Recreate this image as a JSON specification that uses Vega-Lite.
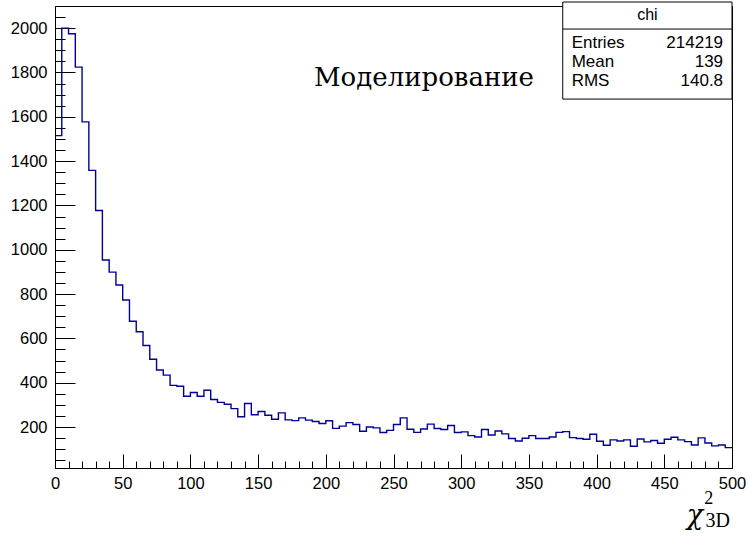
{
  "$schema": "https://vega.github.io/schema/vega-lite/v6.json",
  "width": 677,
  "height": 462,
  "autosize": "none",
  "padding": {"left": 55, "top": 6, "right": 16, "bottom": 70},
  "background": "white",
  "view": {"stroke": "black", "strokeWidth": 1},
  "config": {"font": "Liberation Sans"},
  "datasets": {
    "hist": [
      {"x": 0, "count": 1515}, {"x": 5, "count": 2000}, {"x": 10, "count": 1975}, {"x": 15, "count": 1824},
      {"x": 20, "count": 1577}, {"x": 25, "count": 1358}, {"x": 30, "count": 1177}, {"x": 35, "count": 954},
      {"x": 40, "count": 899}, {"x": 45, "count": 841}, {"x": 50, "count": 773}, {"x": 55, "count": 677},
      {"x": 60, "count": 630}, {"x": 65, "count": 568}, {"x": 70, "count": 506}, {"x": 75, "count": 457},
      {"x": 80, "count": 434}, {"x": 85, "count": 388}, {"x": 90, "count": 384}, {"x": 95, "count": 339},
      {"x": 100, "count": 356}, {"x": 105, "count": 339}, {"x": 110, "count": 366}, {"x": 115, "count": 324},
      {"x": 120, "count": 311}, {"x": 125, "count": 303}, {"x": 130, "count": 283}, {"x": 135, "count": 246},
      {"x": 140, "count": 306}, {"x": 145, "count": 255}, {"x": 150, "count": 270}, {"x": 155, "count": 253},
      {"x": 160, "count": 235}, {"x": 165, "count": 264}, {"x": 170, "count": 232}, {"x": 175, "count": 229},
      {"x": 180, "count": 241}, {"x": 185, "count": 231}, {"x": 190, "count": 225}, {"x": 195, "count": 216},
      {"x": 200, "count": 228}, {"x": 205, "count": 194}, {"x": 210, "count": 204}, {"x": 215, "count": 220},
      {"x": 220, "count": 211}, {"x": 225, "count": 181}, {"x": 230, "count": 200}, {"x": 235, "count": 196},
      {"x": 240, "count": 175}, {"x": 245, "count": 185}, {"x": 250, "count": 211}, {"x": 255, "count": 241},
      {"x": 260, "count": 190}, {"x": 265, "count": 176}, {"x": 270, "count": 191}, {"x": 275, "count": 213},
      {"x": 280, "count": 193}, {"x": 285, "count": 189}, {"x": 290, "count": 207}, {"x": 295, "count": 175},
      {"x": 300, "count": 178}, {"x": 305, "count": 161}, {"x": 310, "count": 155}, {"x": 315, "count": 189},
      {"x": 320, "count": 164}, {"x": 325, "count": 182}, {"x": 330, "count": 169}, {"x": 335, "count": 148},
      {"x": 340, "count": 137}, {"x": 345, "count": 149}, {"x": 350, "count": 161}, {"x": 355, "count": 148},
      {"x": 360, "count": 148}, {"x": 365, "count": 155}, {"x": 370, "count": 176}, {"x": 375, "count": 179},
      {"x": 380, "count": 152}, {"x": 385, "count": 148}, {"x": 390, "count": 145}, {"x": 395, "count": 167},
      {"x": 400, "count": 136}, {"x": 405, "count": 118}, {"x": 410, "count": 142}, {"x": 415, "count": 137},
      {"x": 420, "count": 142}, {"x": 425, "count": 113}, {"x": 430, "count": 146}, {"x": 435, "count": 133},
      {"x": 440, "count": 139}, {"x": 445, "count": 127}, {"x": 450, "count": 145}, {"x": 455, "count": 154},
      {"x": 460, "count": 142}, {"x": 465, "count": 134}, {"x": 470, "count": 119}, {"x": 475, "count": 151},
      {"x": 480, "count": 128}, {"x": 485, "count": 115}, {"x": 490, "count": 119}, {"x": 495, "count": 107},
      {"x": 500, "count": 107}
    ]
  },
  "resolve": {
    "scale": {"x": "shared", "y": "shared"},
    "axis": {"x": "independent", "y": "independent"}
  },
  "layer": [
    {
      "data": {"name": "hist"},
      "mark": {"type": "line", "interpolate": "step-after", "color": "#000099", "strokeWidth": 1.4},
      "encoding": {
        "x": {
          "field": "x", "type": "quantitative",
          "scale": {"domain": [0, 500], "nice": false, "zero": false},
          "axis": {
            "orient": "bottom", "title": null, "grid": false, "format": "d",
            "values": [0, 50, 100, 150, 200, 250, 300, 350, 400, 450, 500],
            "tickSize": -14, "labelPadding": 21, "tickColor": "black", "domainColor": "black",
            "labelFont": "Liberation Sans", "labelFontSize": 16.5, "labelColor": "black",
            "labelFlush": false, "labelOverlap": false
          }
        },
        "y": {
          "field": "count", "type": "quantitative",
          "scale": {"domain": [15, 2100], "nice": false, "zero": false},
          "axis": {
            "orient": "left", "title": null, "grid": false, "format": "d",
            "values": [200, 400, 600, 800, 1000, 1200, 1400, 1600, 1800, 2000],
            "tickSize": -20, "labelPadding": 28, "tickColor": "black", "domainColor": "black",
            "labelFont": "Liberation Sans", "labelFontSize": 16.5, "labelColor": "black",
            "labelFlush": false, "labelOverlap": false
          }
        }
      }
    },
    {
      "data": {"name": "hist"},
      "mark": {"type": "point", "opacity": 0},
      "encoding": {
        "x": {
          "field": "x", "type": "quantitative",
          "scale": {"domain": [0, 500], "nice": false, "zero": false},
          "axis": {
            "orient": "bottom", "title": null, "grid": false, "labels": false, "domain": false,
            "values": [10, 20, 30, 40, 60, 70, 80, 90, 110, 120, 130, 140, 160, 170, 180, 190, 210, 220, 230, 240, 260, 270, 280, 290, 310, 320, 330, 340, 360, 370, 380, 390, 410, 420, 430, 440, 460, 470, 480, 490],
            "tickSize": -7, "tickColor": "black"
          }
        },
        "y": {
          "field": "count", "type": "quantitative",
          "scale": {"domain": [15, 2100], "nice": false, "zero": false},
          "axis": {
            "orient": "left", "title": null, "grid": false, "labels": false, "domain": false,
            "values": [50, 100, 150, 250, 300, 350, 450, 500, 550, 650, 700, 750, 850, 900, 950, 1050, 1100, 1150, 1250, 1300, 1350, 1450, 1500, 1550, 1650, 1700, 1750, 1850, 1900, 1950, 2050],
            "tickSize": -10, "tickColor": "black"
          }
        }
      }
    },
    {
      "data": {"values": [{}]},
      "mark": {"type": "rect", "fill": "white", "stroke": "black", "strokeWidth": 1},
      "encoding": {
        "x": {"datum": 375, "type": "quantitative", "axis": null, "scale": {"domain": [0, 500], "nice": false, "zero": false}},
        "x2": {"datum": 500},
        "y": {"datum": 1680, "type": "quantitative", "axis": null, "scale": {"domain": [15, 2100], "nice": false, "zero": false}},
        "y2": {"datum": 2118}
      }
    },
    {
      "data": {"values": [{}]},
      "mark": {"type": "rule", "stroke": "black", "strokeWidth": 1},
      "encoding": {
        "x": {"datum": 375, "type": "quantitative", "axis": null, "scale": {"domain": [0, 500], "nice": false, "zero": false}},
        "x2": {"datum": 500},
        "y": {"datum": 1996, "type": "quantitative", "axis": null, "scale": {"domain": [15, 2100], "nice": false, "zero": false}}
      }
    },
    {
      "data": {"values": [{"t": "chi"}]},
      "mark": {"type": "text", "font": "Liberation Sans", "fontSize": 16, "align": "center", "baseline": "middle", "color": "black"},
      "encoding": {
        "x": {"datum": 437.5, "type": "quantitative", "axis": null, "scale": {"domain": [0, 500], "nice": false, "zero": false}},
        "y": {"datum": 2058, "type": "quantitative", "axis": null, "scale": {"domain": [15, 2100], "nice": false, "zero": false}},
        "text": {"field": "t"}
      }
    },
    {
      "data": {"values": [{"t": "Entries", "v": "214219", "row": 1934}, {"t": "Mean", "v": "139", "row": 1849}, {"t": "RMS", "v": "140.8", "row": 1762}]},
      "layer": [
        {
          "mark": {"type": "text", "font": "Liberation Sans", "fontSize": 17, "align": "left", "baseline": "middle", "color": "black"},
          "encoding": {
            "x": {"datum": 381.6, "type": "quantitative", "axis": null, "scale": {"domain": [0, 500], "nice": false, "zero": false}},
            "y": {"field": "row", "type": "quantitative", "axis": null, "scale": {"domain": [15, 2100], "nice": false, "zero": false}},
            "text": {"field": "t"}
          }
        },
        {
          "mark": {"type": "text", "font": "Liberation Sans", "fontSize": 17, "align": "right", "baseline": "middle", "color": "black"},
          "encoding": {
            "x": {"datum": 493.4, "type": "quantitative", "axis": null, "scale": {"domain": [0, 500], "nice": false, "zero": false}},
            "y": {"field": "row", "type": "quantitative", "axis": null, "scale": {"domain": [15, 2100], "nice": false, "zero": false}},
            "text": {"field": "v"}
          }
        }
      ]
    },
    {
      "data": {"values": [{"t": "Моделирование"}]},
      "mark": {"type": "text", "font": "DejaVu Serif", "fontSize": 26, "align": "center", "baseline": "middle", "color": "black"},
      "encoding": {
        "x": {"datum": 272.5, "type": "quantitative", "axis": null, "scale": {"domain": [0, 500], "nice": false, "zero": false}},
        "y": {"datum": 1775, "type": "quantitative", "axis": null, "scale": {"domain": [15, 2100], "nice": false, "zero": false}},
        "text": {"field": "t"}
      }
    },
    {
      "data": {"values": [{"t": "χ"}]},
      "mark": {"type": "text", "font": "DejaVu Serif", "fontStyle": "italic", "fontSize": 27, "align": "center", "baseline": "middle", "color": "black"},
      "encoding": {
        "x": {"datum": 472.7, "type": "quantitative", "axis": null, "scale": {"domain": [0, 500], "nice": false, "zero": false}},
        "y": {"datum": -200, "type": "quantitative", "axis": null, "scale": {"domain": [15, 2100], "nice": false, "zero": false}},
        "text": {"field": "t"}
      }
    },
    {
      "data": {"values": [{"t": "2"}]},
      "mark": {"type": "text", "font": "Liberation Serif", "fontSize": 18, "align": "center", "baseline": "middle", "color": "black"},
      "encoding": {
        "x": {"datum": 482.8, "type": "quantitative", "axis": null, "scale": {"domain": [0, 500], "nice": false, "zero": false}},
        "y": {"datum": -124, "type": "quantitative", "axis": null, "scale": {"domain": [15, 2100], "nice": false, "zero": false}},
        "text": {"field": "t"}
      }
    },
    {
      "data": {"values": [{"t": "3D"}]},
      "mark": {"type": "text", "font": "Liberation Serif", "fontSize": 20, "align": "left", "baseline": "middle", "color": "black"},
      "encoding": {
        "x": {"datum": 480.5, "type": "quantitative", "axis": null, "scale": {"domain": [0, 500], "nice": false, "zero": false}},
        "y": {"datum": -222, "type": "quantitative", "axis": null, "scale": {"domain": [15, 2100], "nice": false, "zero": false}},
        "text": {"field": "t"}
      }
    }
  ]
}
